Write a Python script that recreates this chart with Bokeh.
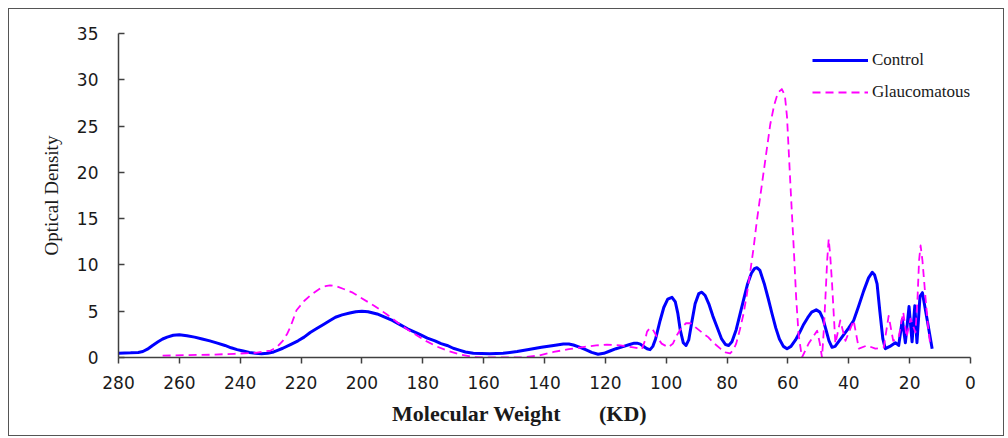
from bokeh.plotting import figure
from bokeh.models import Range1d, FixedTicker
from bokeh.embed import file_html
from bokeh.resources import INLINE

# Molecular weight (KD) and optical density
control_mw = [280, 276, 273.5, 272, 270.5, 268.8, 267, 265.5, 264, 262, 260, 257.5, 255, 252.5,
              250, 247.5, 245, 243, 241, 239, 237, 235, 233, 231, 229, 227.5, 226, 223.5,
              221, 219, 217, 215, 212.5, 210.5, 208.7, 206.5, 204, 202, 200, 198, 195,
              192.5, 190, 187.5, 185, 183, 181, 178.5, 176, 174, 172, 170, 168, 166, 163.4,
              158, 153.6, 149, 144.7, 141, 137, 133.8, 132, 130.5, 128.3, 126.5, 124.5,
              122.4, 120.5, 118.5, 116.5, 115, 112, 110.5, 109.6, 108.5, 107.5, 106.3,
              105.3, 104.4, 103.5, 102, 100.8, 99.5, 98.1, 97, 96.2, 95.4, 94.4, 93.5,
              92.6, 91.6, 90.5, 89.3, 88.3, 87.2, 86, 84.7, 83.3, 81.8, 80.5, 79.5, 78.4,
              77, 75.8, 74.6, 73.3, 72, 71, 70.2, 69.2, 67.8, 66.5, 65.2, 64, 62.8, 61.5,
              60.3, 59, 57.5, 56, 54.8, 53.5, 52.2, 50.7, 49.5, 48.5, 47.5, 46.5, 45.5,
              44.5, 42, 40, 38.4, 36.8, 35.1, 33.5, 32.3, 31.5, 30.7, 29.8, 28.8, 28,
              26.5, 24.7, 23.6, 22.4, 21.4, 20.2, 19.2, 18.3, 17.6, 16.6, 15.8, 14.2, 12.6]
control_od = [0.45, 0.5, 0.55, 0.65, 0.9, 1.3, 1.7, 2.0, 2.2, 2.4, 2.45, 2.35, 2.2, 2.0,
              1.8, 1.55, 1.3, 1.05, 0.85, 0.7, 0.55, 0.45, 0.4, 0.45, 0.6, 0.8, 1.0, 1.4,
              1.8, 2.2, 2.7, 3.1, 3.6, 4.0, 4.35, 4.6, 4.8, 4.95, 5.0, 4.95, 4.7,
              4.35, 4.0, 3.55, 3.1, 2.8, 2.5, 2.1, 1.8, 1.5, 1.3, 1.0, 0.8, 0.6, 0.45,
              0.4, 0.45, 0.65, 0.9, 1.1, 1.3, 1.45, 1.45, 1.35, 1.1, 0.85, 0.55,
              0.35, 0.45, 0.7, 0.95, 1.1, 1.4, 1.55, 1.55, 1.45, 1.2, 0.95,
              0.85, 1.2, 2.0, 4.0, 5.4, 6.3, 6.5, 6.0, 4.8, 3.0, 1.6, 1.3,
              1.9, 3.8, 5.8, 6.9, 7.05, 6.7, 5.8, 4.5, 3.3, 2.0, 1.4, 1.3, 1.7,
              3.0, 4.6, 6.2, 7.9, 9.1, 9.6, 9.7, 9.4, 8.0, 6.4, 4.7, 3.2, 2.0, 1.2,
              0.95, 1.2, 1.9, 2.8, 3.6, 4.3, 4.9, 5.15, 4.9, 4.2, 3.0, 1.8, 1.1,
              1.2, 2.3, 3.2, 4.0, 5.5, 7.2, 8.6, 9.2, 8.9, 7.95, 5.0, 2.0, 0.95,
              1.2, 1.6, 1.3, 4.1, 1.6, 5.5, 1.7, 5.6, 1.6, 6.6, 7.0, 4.0, 0.95]

glauc_mw = [265.5, 258, 250, 242, 235, 230, 228, 226, 224.5, 223.5, 222.5, 221.5, 219, 217,
            214, 212, 210.5, 208.5, 206, 203, 200.6, 196, 192, 188, 184, 181, 179, 175.5,
            172, 168, 163.4, 158, 148, 142, 137, 132, 128, 123, 119.5, 115, 110.8, 108,
            107, 106.3, 105.3, 104.2, 103, 101.5, 99.3, 97.8, 96.5, 95, 93.5, 92, 90.5,
            89, 87.5, 86.2, 84.5, 82, 80.5, 79, 78, 77, 75.8, 74.6, 73.5, 72.5, 71.3,
            70.2, 68, 65.8, 64.5, 63.3, 62, 61, 60.3, 59.8, 59, 58.1, 57.3, 56.5, 55.4,
            53.2, 50.4, 49.5, 48.8, 48.2, 47.6, 47.1, 46.6, 46.1, 45.5, 45, 44.4, 42.8,
            41.1, 38.4, 36.7, 34, 31.25, 28.5, 26.9, 25.4, 23.6, 22.1, 21, 19.7, 18.1,
            17.4, 16.9, 16.4, 15.8, 15.3, 14.8, 14, 13.2]
glauc_od = [0.2, 0.25, 0.3, 0.4, 0.5, 0.75, 1.1, 1.8, 2.6, 3.3, 4.2, 5.1, 6.1, 6.7,
            7.4, 7.7, 7.8, 7.7, 7.4, 7.0, 6.5, 5.6, 4.7, 3.7, 2.8, 2.2, 1.8, 1.2,
            0.75, 0.35, 0.05, 0.0, 0.0, 0.2, 0.6, 0.9, 1.1, 1.3, 1.4, 1.3, 1.1, 0.9,
            1.8, 2.8, 3.2, 2.9, 2.2, 1.5, 1.1, 1.5, 2.4, 3.2, 3.7, 3.7, 3.3,
            2.9, 2.5, 2.2, 1.6, 0.9, 0.55, 0.45, 0.8, 1.5, 3.0, 4.7, 6.8, 9.0, 11.8,
            14.8, 20.0, 25.2, 27.3, 28.6, 29.0, 28.3, 26.0, 22.7, 17.5, 11.9, 6.5, 2.5, 0.0,
            1.5, 2.9, 1.5, 0.0, 3.0, 7.0, 10.5, 12.8, 11.0, 8.0, 5.0, 1.5, 4.0,
            1.8, 4.0, 0.95, 1.3, 0.95, 1.1, 4.5, 1.8, 2.2, 4.9, 2.2, 4.2, 2.7,
            6.5, 10.5, 12.1, 10.5, 8.5, 6.5, 3.5, 1.3]

x_ticks = [0, 20, 40, 60, 80, 100, 120, 140, 160, 180, 200, 220, 240, 260, 280]
y_ticks = [0, 5, 10, 15, 20, 25, 30, 35]

p = figure(width=996, height=428, output_backend="svg", toolbar_location=None,
           x_range=Range1d(280, 0), y_range=Range1d(0, 35),
           min_border_left=109, min_border_right=35, min_border_top=24,
           min_border_bottom=80)
p.styles = {"border": "1px solid #555555", "margin-left": "8px", "margin-top": "8px"}
p.outline_line_color = None
p.background_fill_color = "white"
p.border_fill_color = "white"
p.xgrid.grid_line_color = None
p.ygrid.grid_line_color = None

p.line(control_mw, control_od, line_color="#0000ff", line_width=3, line_join="round",
       legend_label="Control")
p.line(glauc_mw, glauc_od, line_color="#ff00ff", line_width=1.8, line_dash="8 5",
       line_join="round", legend_label="Glaucomatous")

for ax in (p.xaxis[0], p.yaxis[0]):
    ax.axis_line_color = "#404040"
    ax.axis_line_width = 1.5
    ax.major_tick_line_color = "#404040"
    ax.major_tick_line_width = 1.5
    ax.minor_tick_line_color = None
    ax.major_label_text_font = "DejaVu Sans"
    ax.major_label_text_font_size = "17px"
    ax.major_label_text_color = "#1a1a1a"

p.xaxis.ticker = FixedTicker(ticks=x_ticks)
p.yaxis.ticker = FixedTicker(ticks=y_ticks)
p.xaxis.major_tick_in = 0
p.xaxis.major_tick_out = 6
p.yaxis.major_tick_in = 6
p.yaxis.major_tick_out = 0
p.xaxis.major_label_standoff = 12
p.yaxis.major_label_standoff = 20

nb = "\u00a0"
p.xaxis.axis_label = "Molecular Weight" + nb * 7 + "(KD)" + nb * 9
p.xaxis.axis_label_text_font = "Liberation Serif"
p.xaxis.axis_label_text_font_style = "bold"
p.xaxis.axis_label_text_font_size = "22px"
p.xaxis.axis_label_text_color = "#1a1a1a"
p.xaxis.axis_label_standoff = 9

p.yaxis.axis_label = "Optical Density"
p.yaxis.axis_label_text_font = "Liberation Serif"
p.yaxis.axis_label_text_font_style = "normal"
p.yaxis.axis_label_text_font_size = "19px"
p.yaxis.axis_label_text_color = "#1a1a1a"
p.yaxis.axis_label_standoff = 12

lg = p.legend[0]
lg.location = (694, 255)
lg.border_line_color = None
lg.background_fill_alpha = 0
lg.padding = 0
lg.margin = 0
lg.spacing = 12
lg.glyph_width = 56
lg.glyph_height = 20
lg.label_standoff = 4
lg.label_text_font = "Liberation Serif"
lg.label_text_font_size = "17px"
lg.label_text_color = "#1a1a1a"

open("out.html", "w").write(file_html(p, INLINE))
